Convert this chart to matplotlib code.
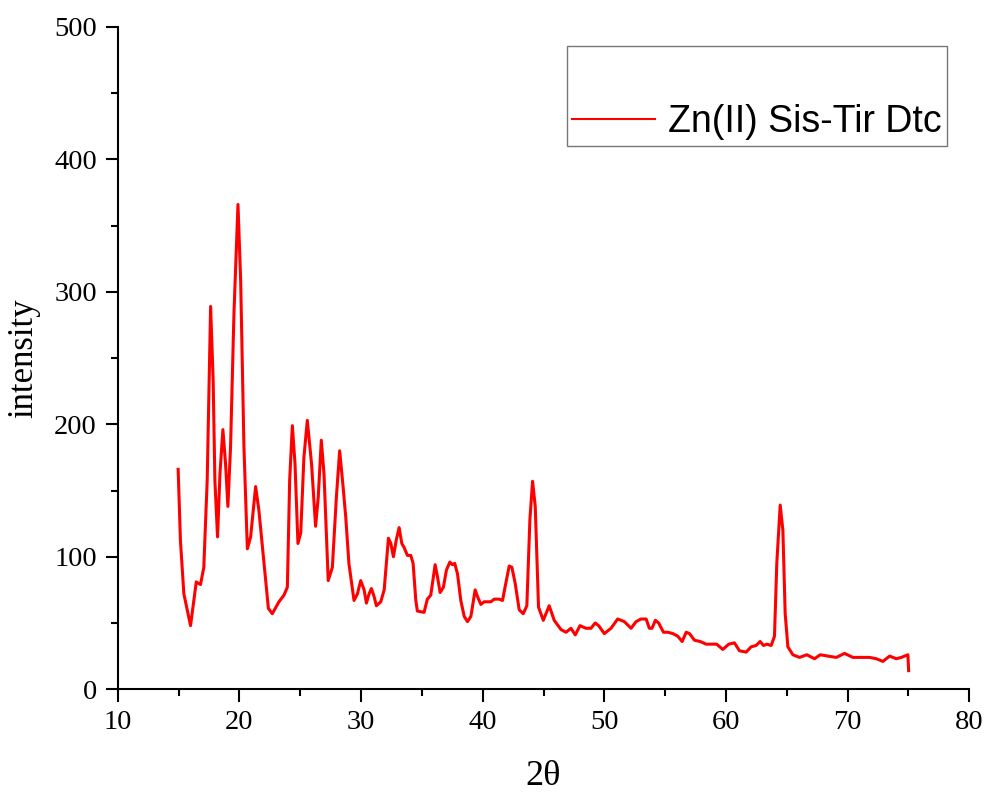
import matplotlib
matplotlib.use("Agg")
from matplotlib import pyplot as plt
from matplotlib.ticker import MultipleLocator

# XRD pattern (2theta, intensity)
two_theta = [14.96, 15.15, 15.43, 15.98, 16.45, 16.8, 17.07, 17.35, 17.63, 17.84,
             17.98, 18.2, 18.4, 18.64, 18.86, 19.05, 19.27, 19.55, 19.88, 20.1,
             20.37, 20.65, 20.92, 21.33, 21.6, 22.0, 22.38, 22.7, 23.25, 23.66,
             23.94, 24.13, 24.35, 24.57, 24.81, 25.04, 25.3, 25.58, 25.93, 26.26,
             26.48, 26.73, 26.95, 27.3, 27.64, 27.97, 28.24, 28.52, 28.74, 29.0,
             29.42, 29.7, 29.97, 30.25, 30.44, 30.66, 30.85, 31.07, 31.26, 31.62,
             31.9, 32.25, 32.45, 32.66, 32.9, 33.13, 33.35, 33.54, 33.81, 34.09,
             34.28, 34.5, 34.63, 35.18, 35.45, 35.73, 36.09, 36.28, 36.5, 36.77,
             37.02, 37.3, 37.51, 37.7, 37.93, 38.2, 38.48, 38.75, 39.03, 39.38,
             39.57, 39.85, 40.12, 40.67, 40.95, 41.36, 41.63, 41.9, 42.18, 42.4,
             42.67, 43.0, 43.33, 43.63, 43.88, 44.1, 44.32, 44.59, 44.98, 45.47,
             45.88, 46.44, 46.85, 47.26, 47.61, 48.0, 48.49, 48.9, 49.25, 49.53,
             50.0, 50.55, 51.1, 51.65, 52.2, 52.61, 53.02, 53.44, 53.7, 53.92,
             54.2, 54.47, 54.86, 55.22, 55.63, 56.04, 56.4, 56.73, 57.0, 57.41,
             57.88, 58.37, 58.86, 59.24, 59.74, 60.23, 60.7, 61.11, 61.66, 62.07,
             62.48, 62.81, 63.09, 63.36, 63.72, 63.99, 64.18, 64.46, 64.68, 64.87,
             65.09, 65.5, 66.05, 66.65, 67.28, 67.75, 68.38, 69.07, 69.75, 70.44,
             71.12, 71.81, 72.36, 72.9, 73.46, 74.0, 74.42, 74.96, 75.02]
intensity = [166, 112, 72, 48, 81, 79, 92, 158, 289, 233,
             158, 115, 163, 196, 170, 138, 183, 284, 366, 309,
             183, 106, 115, 153, 135, 97, 61, 57, 66, 71,
             77, 158, 199, 170, 110, 118, 175, 203, 170, 123,
             145, 188, 163, 82, 92, 145, 180, 153, 130, 95,
             67, 72, 82, 75, 65, 72, 76, 70, 63, 66,
             75, 114, 110, 100, 113, 122, 110, 107, 101, 101,
             95, 67, 59, 58, 68, 71, 94, 85, 73, 77,
             90, 96, 94, 95, 87, 67, 55, 51, 55, 75,
             70, 64, 66, 66, 68, 68, 67, 80, 93, 92,
             80, 60, 57, 63, 128, 157, 138, 62, 52, 63,
             52, 45, 43, 46, 41, 48, 46, 46, 50, 48,
             42, 46, 53, 51, 46, 51, 53, 53, 46, 46,
             52, 50, 43, 43, 42, 40, 36, 43, 42, 37,
             36, 34, 34, 34, 30, 34, 35, 29, 28, 32,
             33, 36, 33, 34, 33, 40, 95, 139, 120, 57,
             32, 26, 24, 26, 23, 26, 25, 24, 27, 24,
             24, 24, 23, 21, 25, 23, 24, 26, 14]

series_name = "Zn(II) Sis-Tir Dtc"

fig = plt.figure(figsize=(9.9, 7.94), dpi=100)
ax = fig.add_axes([0.119, 0.132, 0.860, 0.834])

ax.plot(two_theta, intensity, color="red", lw=2.2, label=series_name,
        solid_joinstyle="round")

ax.set_xlim(10, 80)
ax.set_ylim(0, 500)
ax.xaxis.set_major_locator(MultipleLocator(10))
ax.xaxis.set_minor_locator(MultipleLocator(5))
ax.yaxis.set_major_locator(MultipleLocator(100))
ax.yaxis.set_minor_locator(MultipleLocator(50))

for side in ["top", "right"]:
    ax.spines[side].set_visible(False)
for side in ["left", "bottom"]:
    ax.spines[side].set_linewidth(1.5)

ax.tick_params(which="major", direction="out", length=9, width=1.5,
               labelsize=20.5, pad=6)
ax.tick_params(which="minor", direction="out", length=5, width=1.5)
for lab in ax.get_xticklabels() + ax.get_yticklabels():
    lab.set_fontfamily("Liberation Serif")

ax.set_xlabel("2θ", fontsize=26, fontfamily="Liberation Serif", labelpad=18)
ax.set_ylabel("intensity", fontsize=25, fontfamily="Liberation Serif", labelpad=10)

# Origin-style legend: an empty first line above the entry
leg = ax.legend(loc="upper right", bbox_to_anchor=(0.974, 0.971),
                title=" ", title_fontsize=34,
                prop={"family": "Liberation Sans", "size": 27},
                frameon=True, fancybox=False, handlelength=2.2,
                handletextpad=0.35, borderpad=0.15, borderaxespad=0,
                labelspacing=0.2)
leg.get_frame().set_edgecolor("#555555")
leg.get_frame().set_linewidth(1.0)
leg.get_lines()[0].set_linewidth(1.5)

fig.savefig("out.png", dpi=100)
